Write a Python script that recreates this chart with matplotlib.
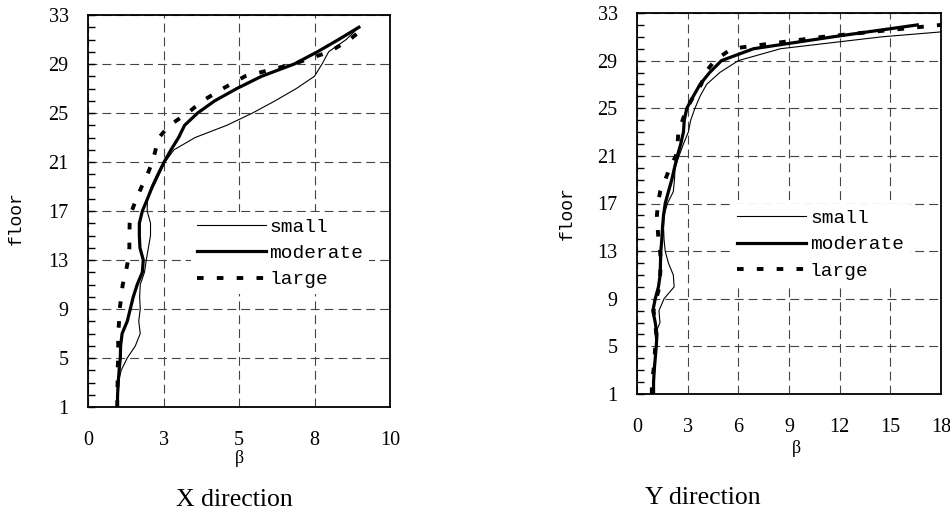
import matplotlib.pyplot as plt
from matplotlib.ticker import MultipleLocator, FixedLocator

# floors 1..32
floors = list(range(1, 33))

# X direction
x_small = [0.97, 0.97, 1.0, 1.1, 1.3, 1.57, 1.73, 1.68, 1.73, 1.71, 1.73, 1.87, 1.93, 2.0, 2.07, 2.07,
           1.96, 1.97, 2.17, 2.36, 2.55, 2.85, 3.55, 4.6, 5.45, 6.2, 6.9, 7.5, 7.75, 7.97, 8.55, 8.97]
x_moderate = [0.97, 0.98, 1.0, 1.03, 1.07, 1.08, 1.13, 1.3, 1.4, 1.5, 1.63, 1.8, 1.83, 1.72, 1.7, 1.7,
              1.8, 1.97, 2.13, 2.32, 2.52, 2.75, 3.0, 3.2, 3.63, 4.2, 4.93, 5.75, 6.83, 7.6, 8.3, 8.97]
x_large = [0.97, 0.97, 0.98, 0.98, 1.0, 1.0, 1.0, 1.03, 1.05, 1.1, 1.15, 1.25, 1.33, 1.37, 1.37, 1.38,
           1.45, 1.6, 1.78, 1.97, 2.13, 2.24, 2.35, 2.7, 3.3, 3.8, 4.47, 5.2, 6.8, 8.0, 8.67, 9.17]

# Y direction
y_small = [0.93, 0.97, 1.0, 1.05, 1.16, 1.07, 1.36, 1.3, 1.6, 2.2, 2.15, 1.86, 1.67, 1.6, 1.57, 1.6,
           1.8, 2.15, 2.22, 2.25, 2.49, 2.75, 3.04, 3.18, 3.43, 3.73, 4.12, 4.9, 6.0, 8.5, 14.5, 23.0]
y_moderate = [0.98, 0.98, 1.02, 1.08, 1.14, 1.18, 1.08, 0.94, 1.08, 1.27, 1.37, 1.39, 1.41, 1.47, 1.51, 1.57,
              1.67, 1.86, 2.06, 2.22, 2.39, 2.59, 2.75, 2.8, 2.95, 3.33, 3.73, 4.3, 5.0, 6.9, 11.6, 16.6]
y_large = [0.88, 0.88, 0.98, 1.04, 1.08, 1.14, 1.08, 0.98, 1.14, 1.33, 1.37, 1.41, 1.37, 1.27, 1.22, 1.18,
           1.24, 1.37, 1.67, 1.95, 2.3, 2.4, 2.45, 2.7, 2.95, 3.35, 3.8, 4.05, 4.6, 5.6, 11.0, 18.0]

x_ticks_left = [0, 2.5, 5, 7.5, 10]
x_labels_left = ['0', '3', '5', '8', '10']
x_ticks_right = [0, 3, 6, 9, 12, 15, 18]
y_ticks = [1, 5, 9, 13, 17, 21, 25, 29, 33]
names = ['small', 'moderate', 'large']

serif = 'Liberation Serif'
mono = 'Liberation Mono'

fig = plt.figure(figsize=(9.5, 5.21), dpi=100)
ax1 = fig.add_axes([88 / 950, 1 - 407 / 521, 302 / 950, 392 / 521])
ax2 = fig.add_axes([637 / 950, 1 - 394 / 521, 304 / 950, 381 / 521])


def draw(ax, xs, xmax, xticks, xlabels, leg_x, leg_y, floor_pos, beta_pos):
    s, m, l = xs
    ax.plot(s, floors, color='black', lw=0.8, label=names[0], zorder=3)
    ax.plot(m, floors, color='black', lw=2.3, label=names[1], zorder=3)
    ax.plot(l, floors, color='black', lw=2.8, linestyle=(0, (1.7, 3.4)),
            dash_capstyle='butt', label=names[2], zorder=3)
    ax.set_xlim(0, xmax)
    ax.set_ylim(1, 33)
    ax.xaxis.set_major_locator(FixedLocator(xticks))
    ax.set_xticklabels(xlabels, fontfamily=serif, fontsize=14.5)
    ax.yaxis.set_major_locator(FixedLocator(y_ticks))
    ax.yaxis.set_minor_locator(MultipleLocator(1))
    ax.set_yticklabels([str(v) for v in y_ticks], fontfamily=serif, fontsize=14.5)
    ax.tick_params(axis='x', length=0, pad=17)
    ax.tick_params(axis='y', which='both', direction='in', length=5, width=1, pad=14)
    for sp in ax.spines.values():
        sp.set_linewidth(1.3)
    ax.grid(True, color='#444444', linestyle=(0, (8, 4.5)), linewidth=0.8, zorder=1)
    ax.set_axisbelow(True)
    leg = ax.legend(loc='upper left', bbox_to_anchor=(leg_x, leg_y), frameon=True,
                    prop={'family': mono, 'size': 14}, handlelength=3.55, handletextpad=0.2,
                    labelspacing=0.45, borderpad=0.3, borderaxespad=0, fancybox=False)
    leg.get_frame().set_facecolor('white')
    leg.get_frame().set_edgecolor('none')
    leg.get_frame().set_alpha(1)
    ax.text(floor_pos[0], floor_pos[1], 'floor', transform=ax.transAxes, rotation=90,
            ha='center', va='center', fontfamily=mono, fontsize=13)
    ax.text(beta_pos[0], beta_pos[1], 'β', transform=ax.transAxes,
            ha='center', va='center', fontfamily=serif, fontsize=13)


draw(ax1, (x_small, x_moderate, x_large), 10, x_ticks_left, x_labels_left,
     0.34, 0.497, (-0.237, 0.482), (0.5, -0.132))
draw(ax2, (y_small, y_moderate, y_large), 18, x_ticks_right, [str(v) for v in x_ticks_right],
     0.31, 0.50, (-0.23, 0.475), (0.526, -0.142))

fig.text(0.247, 0.040, 'X direction', ha='center', va='center', fontfamily=serif, fontsize=18.5)
fig.text(0.740, 0.044, 'Y direction', ha='center', va='center', fontfamily=serif, fontsize=18.5)

plt.savefig('out.png', dpi=100)
